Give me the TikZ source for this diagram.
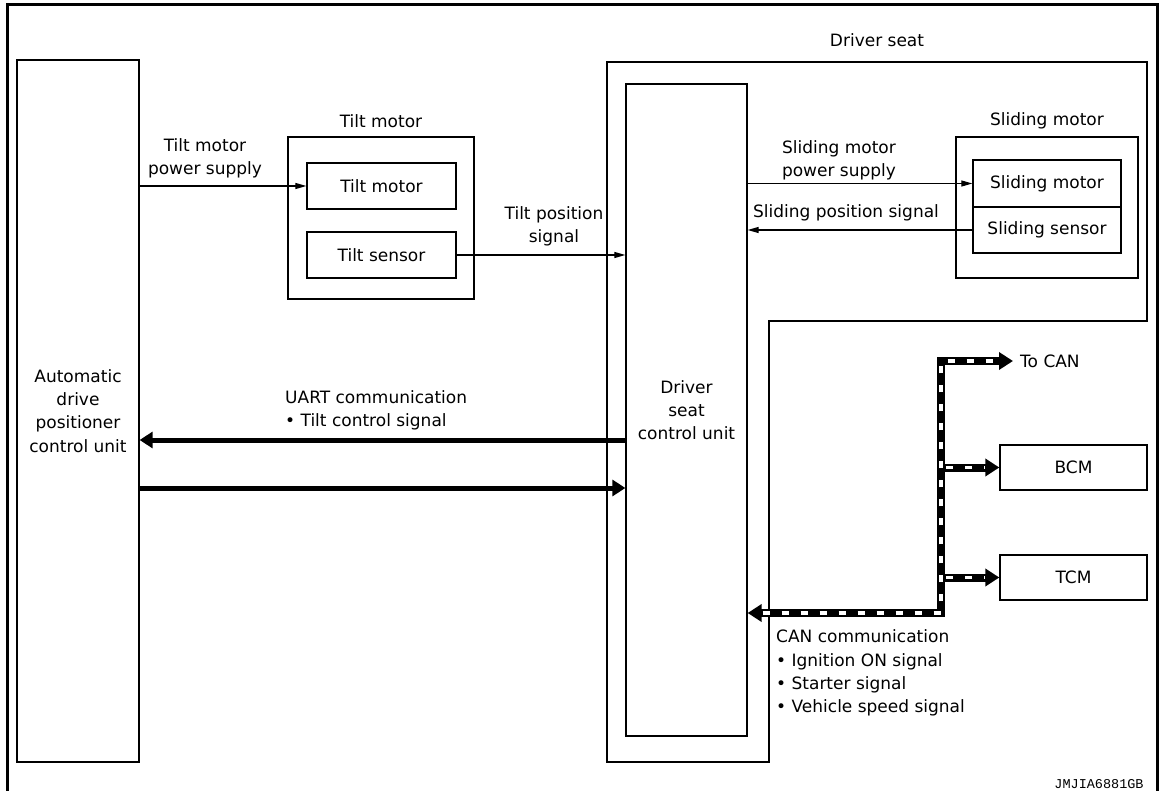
\documentclass[tikz,border=0pt]{standalone}
\usepackage{fontspec}
\setmainfont{DejaVu Sans}
\newfontfamily\monofnt{Liberation Mono}
\usetikzlibrary{arrows.meta,calc}
\tikzset{cantip/.tip={Triangle[length=14pt,width=17pt]}}
\begin{document}
\begin{tikzpicture}[x=1pt,y=-1pt, font=\fontsize{17}{23.3}\selectfont,
 box/.style={draw, line width=1.3pt, inner sep=0pt, align=center},
 lbl/.style={inner sep=0pt, align=center},
 thinarr/.style={line width=1.2pt, -{Triangle[length=11pt,width=6pt]}},
 thickarr/.style={line width=5pt, -{Triangle[length=13pt,width=16pt]}},
 canblack/.style={line width=8pt, line cap=butt},
 canwhite/.style={draw=white, line width=3.5pt, dash pattern=on 7pt off 12pt},
]
\path[use as bounding box] (0,0) rectangle (1162,791);
% outer frame
\draw[line width=3pt] (7,791) -- (7,5) -- (1157,5) -- (1157,791);

% automatic drive positioner control unit
\node[box, minimum width=122pt, minimum height=702pt] (adp) at (78,411) {Automatic\\drive\\positioner\\control unit};

% tilt motor
\node[box, minimum width=186pt, minimum height=162pt] (tilt) at (381,218) {};
\node[lbl] (tilttitle) at (381,121) {Tilt motor};
\node[box, minimum width=149pt, minimum height=46pt] (tmi) at (381.5,186) {Tilt motor};
\node[box, minimum width=149pt, minimum height=46pt] (tsi) at (381.5,255) {Tilt sensor};

% driver seat region
\draw[line width=1.3pt] (607,62) -- (1147,62) -- (1147,321) -- (769,321) -- (769,762) -- (607,762) -- cycle;
\node[lbl] (dstitle) at (877,40) {Driver seat};
\node[box, minimum width=121pt, minimum height=652pt] (dscu) at (686.5,410) {Driver\\seat\\control unit};

% sliding motor
\node[box, minimum width=182pt, minimum height=141pt] (slide) at (1047,207.5) {};
\node[lbl] (slidetitle) at (1047,121) {Sliding motor};
\node[box, minimum width=148pt, minimum height=47pt] (smi) at (1047,183.5) {Sliding motor};
\node[box, minimum width=148pt, minimum height=46pt] (ssi) at (1047,230) {Sliding sensor};

% BCM / TCM
\node[box, minimum width=147pt, minimum height=45pt] (bcm) at (1073.5,467.5) {BCM};
\node[box, minimum width=147pt, minimum height=45pt] (tcm) at (1073.5,577.5) {TCM};

% thin arrows
\draw[thinarr] (adp.east |- tmi.west) -- (tmi.west);
\draw[thinarr] (tsi.east) -- (dscu.west |- tsi.east);
\draw[thinarr] (dscu.east |- smi.west) -- (smi.west);
\draw[thinarr] (ssi.west) -- (dscu.east |- ssi.west);

\node[lbl] (l1) at (205,158) {Tilt motor\\power supply};
\node[lbl] (l2) at (554,226) {Tilt position\\signal};
\node[lbl] (l3) at (839,160) {Sliding motor\\power supply};
\node[lbl] (l4) at (846,213) {Sliding position signal};

% UART
\coordinate (u1) at (0,440);
\coordinate (u2) at (0,488);
\draw[thickarr] (dscu.west |- u1) -- (adp.east |- u1);
\draw[thickarr] (adp.east |- u2) -- (dscu.west |- u2);
\node[lbl, align=left, anchor=west] (uart) at (285,410) {UART communication\\• Tilt control signal};

% CAN
\coordinate (cj) at (941,361);
\coordinate (tocan) at (1013,361);
\coordinate (cb) at (941,613);
\draw[canblack, cantip-cantip] (dscu.east |- cb) -- (cb) -- (cj) -- (tocan);
\draw[canblack, -cantip] (cj |- bcm.west) -- (bcm.west);
\draw[canblack, -cantip] (cj |- tcm.west) -- (tcm.west);
\draw[canwhite] ($(dscu.east |- cb)+(15,0)$) -- (cb) -- (cj) -- ($(tocan)+(-15,0)$);
\draw[canwhite] ($(cj |- bcm.west)+(5,0)$) -- ($(bcm.west)+(-15,0)$);
\draw[canwhite] ($(cj |- tcm.west)+(5,0)$) -- ($(tcm.west)+(-15,0)$);
\node[lbl, anchor=west] (tocanlbl) at (1020,361) {To CAN};
\node[lbl, align=left, anchor=west] (canlbl) at (776,673) {CAN communication\\• Ignition ON signal\\• Starter signal\\• Vehicle speed signal};

\node[lbl] (code) at (1099,784) {\monofnt\fontsize{13.5}{14}\selectfont JMJIA6881GB};
\end{tikzpicture}
\end{document}
